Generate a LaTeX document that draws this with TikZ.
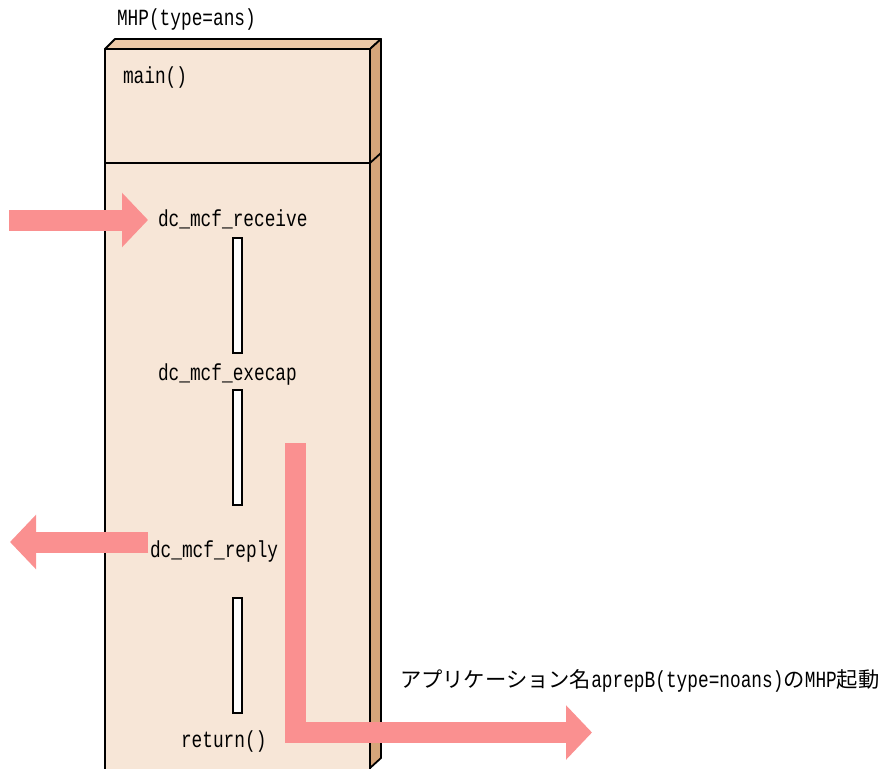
\documentclass[tikz,border=0pt]{standalone}
\usepackage{fontspec}
\usepackage{graphicx}
\newfontfamily\mono{Liberation Mono}
\newfontfamily\cjk{Noto Sans CJK JP}
\usetikzlibrary{arrows.meta}
\definecolor{frontc}{HTML}{F7E6D7}
\definecolor{topc}{HTML}{EDC9A7}
\definecolor{sidec}{HTML}{D6A57A}
\definecolor{arrc}{HTML}{FA9090}
\newcommand{\lat}[1]{\scalebox{1}[1.3]{\fontsize{17.8pt}{20pt}\mono #1}}
\newcommand{\jp}[1]{{\fontsize{21.3pt}{24pt}\cjk #1}}
\tikzset{
  lbl/.style={anchor=base west, inner sep=0pt, outer sep=0pt},
  face/.style={draw=black, line width=1.8pt, line join=round},
  bar/.style={draw=black, fill=white, line width=1.4pt, minimum width=9pt, inner sep=0pt},
  fatarrow/.style={draw=arrc, line width=21pt, -{Triangle[length=26pt,width=53pt]}}
}
\begin{document}
\begin{tikzpicture}[x=1pt,y=-1pt]
\useasboundingbox (0,0) rectangle (883,768);
\begin{scope}
\clip (0,0) rectangle (883,768);
% box faces
\path[face, fill=frontc] (105,49) -- (370,49) -- (370,775) -- (105,775) -- cycle;
\path[face, fill=topc] (105,49) -- (115,39) -- (381,39) -- (370,49) -- cycle;
\path[face, fill=sidec] (370,49) -- (381,39) -- (381,758) -- (370,768) -- (370,775) -- cycle;
\draw[face] (105,163) -- (370,163) -- (381,153);
\end{scope}
% labels
\node[lbl] (mhp) at (117,26) {\lat{MHP(type=ans)}};
\node[lbl] (main) at (123,84) {\lat{main()}};
\node[lbl] (recv) at (158,226) {\lat{dc\_mcf\_receive}};
\node[lbl] (exec) at (158,380) {\lat{dc\_mcf\_execap}};
\node[lbl] (reply) at (150,557) {\lat{dc\_mcf\_reply}};
\node[lbl] (ret) at (181,747) {\lat{return()}};
\node[lbl] (start) at (400,687) {\jp{アプリケーション名}\lat{aprepB(type=noans)}\jp{の}\lat{MHP}\jp{起動}};
% bars
\node[bar, minimum height=115pt] (b1) at (237.5,295.5) {};
\node[bar, minimum height=115pt] (b2) at (237.5,447.5) {};
\node[bar, minimum height=115pt] (b3) at (237.5,655.5) {};
% arrows
\coordinate (inS) at (9,220);
\coordinate (inE) at (148,220);
\coordinate (outS) at (148,542);
\coordinate (outE) at (10,542);
\coordinate (callS) at (295,443);
\coordinate (callE) at (592,732.5);
\draw[fatarrow] (inS) -- (inE);
\draw[fatarrow] (outS) -- (outE);
\draw[fatarrow, line join=miter] (callS) |- (callE);
\end{tikzpicture}
\end{document}
